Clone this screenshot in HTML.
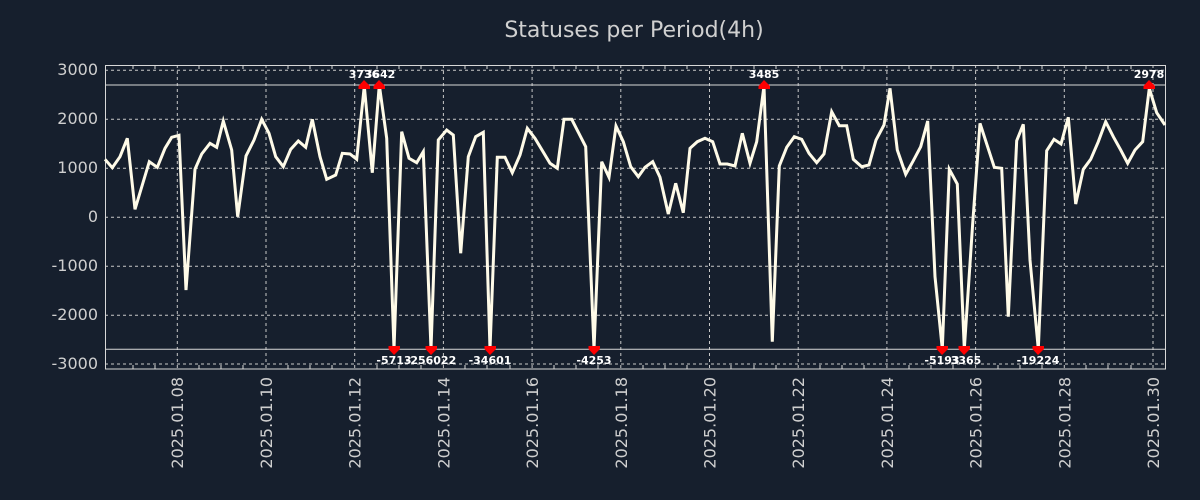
<!DOCTYPE html>
<html><head><style>
body{margin:0;background:#161f2d;}
svg{display:block;font-family:"DejaVu Sans","Liberation Sans",sans-serif;}
</style></head><body>
<svg width="1200" height="500" viewBox="0 0 1200 500">
<rect width="1200" height="500" fill="#161f2d"/>
<text x="634" y="37" text-anchor="middle" font-size="22" fill="#d0d0d0">Statuses per Period(4h)</text>
<g stroke="#c8c8c8" stroke-width="1" stroke-dasharray="3,3" fill="none">
<line x1="105" x2="1166" y1="70.3" y2="70.3"/>
<line x1="105" x2="1166" y1="119.3" y2="119.3"/>
<line x1="105" x2="1166" y1="168.3" y2="168.3"/>
<line x1="105" x2="1166" y1="217.3" y2="217.3"/>
<line x1="105" x2="1166" y1="266.3" y2="266.3"/>
<line x1="105" x2="1166" y1="315.3" y2="315.3"/>
<line x1="105" x2="1166" y1="364" y2="364"/>
<line x1="177.3" x2="177.3" y1="65" y2="369"/>
<line x1="266" x2="266" y1="65" y2="369"/>
<line x1="354.7" x2="354.7" y1="65" y2="369"/>
<line x1="443.4" x2="443.4" y1="65" y2="369"/>
<line x1="532.1" x2="532.1" y1="65" y2="369"/>
<line x1="620.8" x2="620.8" y1="65" y2="369"/>
<line x1="709.5" x2="709.5" y1="65" y2="369"/>
<line x1="798.2" x2="798.2" y1="65" y2="369"/>
<line x1="886.9" x2="886.9" y1="65" y2="369"/>
<line x1="975.6" x2="975.6" y1="65" y2="369"/>
<line x1="1064.3" x2="1064.3" y1="65" y2="369"/>
<line x1="1153" x2="1153" y1="65" y2="369"/>
</g>
<g stroke="#d8d8d8" stroke-width="1">
<path d="M133,65v4M155,65v4M199,65v4M221,65v4M243,65v4M288,65v4M310,65v4M332,65v4M377,65v4M399,65v4M421,65v4M465,65v4M487,65v4M510,65v4M554,65v4M576,65v4M598,65v4M643,65v4M665,65v4M687,65v4M731,65v4M754,65v4M776,65v4M820,65v4M842,65v4M864,65v4M909,65v4M931,65v4M953,65v4M998,65v4M1020,65v4M1042,65v4M1086,65v4M1108,65v4M1131,65v4
M133,369v-4M155,369v-4M199,369v-4M221,369v-4M243,369v-4M288,369v-4M310,369v-4M332,369v-4M377,369v-4M399,369v-4M421,369v-4M465,369v-4M487,369v-4M510,369v-4M554,369v-4M576,369v-4M598,369v-4M643,369v-4M665,369v-4M687,369v-4M731,369v-4M754,369v-4M776,369v-4M820,369v-4M842,369v-4M864,369v-4M909,369v-4M931,369v-4M953,369v-4M998,369v-4M1020,369v-4M1042,369v-4M1086,369v-4M1108,369v-4M1131,369v-4"/>
</g>
<line x1="105" x2="1166" y1="85" y2="85" stroke="#d8d8d8" stroke-width="1"/>
<line x1="105" x2="1166" y1="349.3" y2="349.3" stroke="#d8d8d8" stroke-width="1"/>
<rect x="105.5" y="65.5" width="1060" height="303.5" fill="none" stroke="#d8d8d8" stroke-width="1"/>
<g fill="#cfcfcf" font-size="16" text-anchor="end">
<text x="98" y="75">3000</text>
<text x="98" y="124">2000</text>
<text x="98" y="173">1000</text>
<text x="98" y="222">0</text>
<text x="98" y="271">-1000</text>
<text x="98" y="320">-2000</text>
<text x="98" y="369">-3000</text>
</g>
<g fill="#cfcfcf" font-size="16" text-anchor="end">
<text transform="translate(183,377) rotate(-90)">2025.01.08</text>
<text transform="translate(272,377) rotate(-90)">2025.01.10</text>
<text transform="translate(360.7,377) rotate(-90)">2025.01.12</text>
<text transform="translate(449.4,377) rotate(-90)">2025.01.14</text>
<text transform="translate(538.1,377) rotate(-90)">2025.01.16</text>
<text transform="translate(626.8,377) rotate(-90)">2025.01.18</text>
<text transform="translate(715.5,377) rotate(-90)">2025.01.20</text>
<text transform="translate(804.2,377) rotate(-90)">2025.01.22</text>
<text transform="translate(892.9,377) rotate(-90)">2025.01.24</text>
<text transform="translate(981.6,377) rotate(-90)">2025.01.26</text>
<text transform="translate(1070.3,377) rotate(-90)">2025.01.28</text>
<text transform="translate(1159,377) rotate(-90)">2025.01.30</text>
</g>
<polyline fill="none" stroke="#fffbe8" stroke-width="3" stroke-linejoin="miter" points="
105,159.3 112.3,167.7 120,156.7 127.3,138.3 135,209.3 142.3,185 149.3,161.7 157.3,167.3 165,148.3 171.7,137.3 179,135.3 186,290 195,169.3 201.7,154 210,143.3 216.7,147.3 223.3,121 231.7,150 237.7,216.7 246,156 254,140 261.7,119.3 269,133.3 275.7,156.7 283.3,166.7 290.7,149.3 298.3,141 305.7,147.3 312.3,119.3 320,156.7 326.7,179.3 335.7,175 342.3,153.3 350,154 356.7,159.3 364.3,86 372.3,172.7 379.3,85 386.7,138.3 394,349 401.7,131.7 409,158.3 416.7,162.7 423.3,151.7 431,349 438.3,140 446.7,130 453.3,135 460.7,253.3 468.3,156.7 475.7,136.7 483.3,132.3 490,349 497.3,157.3 505,157.3 512.3,172.7 520,155 527.3,128.3 535,138.3 550,163.3 557.3,168.3 564,119.3 571.7,119.3 585.7,146.7 594,349 601.7,161.7 609,177.3 616,126 623.3,141.7 630.7,166.7 638.3,176.7 645,167.3 652.7,161.7 660,177.3 668.3,214 675.7,183.3 683.3,212.7 690,148.3 697.3,141.7 705,138.3 712.7,141.7 720,164 727.3,164 735,166 742.3,133.3 750,163.3 756.7,141.7 764,86 772.3,341.7 779.3,166 786.7,147.3 794.3,136.7 801.7,139.3 809,153.3 816.7,162.7 824,154 831.7,111.7 839.3,125.7 846.7,125.7 853.3,159.3 861.7,166.7 869,165 876,140 884,125 890,88.3 897.3,150 905.7,174.3 913.3,160.7 920.7,146.7 927.7,121 935,276.7 942.3,349 949.3,169.3 957.3,184 964.3,349 972.7,223.3 980,123.3 994.3,167.3 1001.7,168.3 1008.3,316.7 1016.7,140.7 1023.3,124.3 1030,260 1038.3,349 1046.7,150.7 1054,139.3 1061,144 1068.3,117.3 1075.7,204 1083.3,169.3 1090.7,159.3 1098.3,141.7 1105.7,121.7 1113.3,136.7 1120.7,150 1127.7,163.3 1135,150 1142.7,141.7 1149.3,88.3 1156.7,112.7 1165,125"/>
<g fill="#ff0000">
<path d="M358.5,89 L370,89 L370,86 L364,80 L358.5,86 Z"/><path d="M373.5,89 L385,89 L385,86 L379,80 L373.5,86 Z"/>
<path d="M758.5,89 L770,89 L770,86 L764,80 L758.5,86 Z"/><path d="M1143.5,89 L1155,89 L1155,86 L1149,80 L1143.5,86 Z"/>
<path d="M388.5,346 L400,346 L400,349 L394,355 L388.5,349 Z"/><path d="M425.5,346 L437,346 L437,349 L431,355 L425.5,349 Z"/>
<path d="M484.5,346 L496,346 L496,349 L490,355 L484.5,349 Z"/><path d="M588.5,346 L600,346 L600,349 L594,355 L588.5,349 Z"/>
<path d="M936.5,346 L948,346 L948,349 L942,355 L936.5,349 Z"/><path d="M958.5,346 L970,346 L970,349 L964,355 L958.5,349 Z"/>
<path d="M1032.5,346 L1044,346 L1044,349 L1038,355 L1032.5,349 Z"/>
</g>
<g fill="#ffffff" font-size="11" font-weight="bold" text-anchor="middle">
<text x="364" y="78">3736</text><text x="380" y="78">3642</text>
<text x="764" y="78">3485</text><text x="1149" y="78">2978</text>
<text x="394" y="364">-5713</text><text x="431" y="364">-256022</text>
<text x="490" y="364">-34601</text><text x="594" y="364">-4253</text>
<text x="942" y="364">-5193</text><text x="966" y="364">3365</text>
<text x="1038" y="364">-19224</text>
</g>
</svg>
</body></html>
